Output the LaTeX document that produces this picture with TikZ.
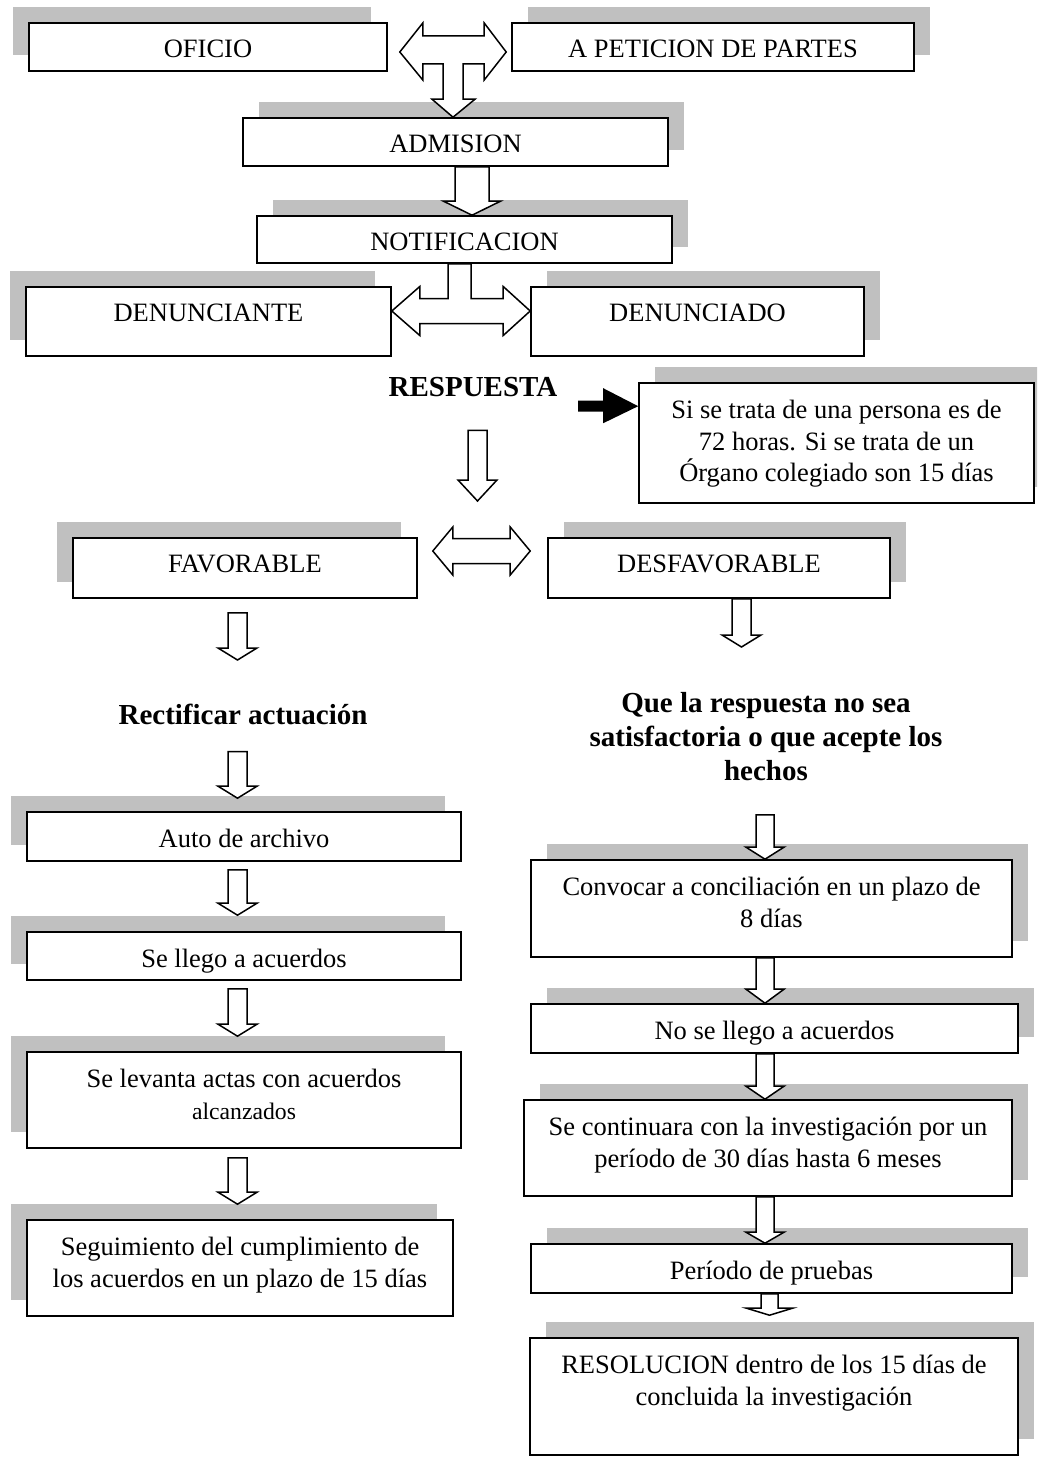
\documentclass[tikz,border=0pt]{standalone}
\usepackage{fontspec}
\setmainfont{Liberation Serif}
\usetikzlibrary{calc}
\definecolor{shadegray}{RGB}{192,192,192}
\newcommand{\bodyfont}{\fontsize{26.5}{31.5}\selectfont}
\newcommand{\headfont}{\fontsize{29}{34}\selectfont\bfseries}
\tikzset{
  boxst/.style={draw, line width=1.6pt, fill=white, inner sep=0pt},
  boxtxt/.style={font=\bodyfont, align=center, inner sep=0pt, anchor=north},
  headtxt/.style={font=\headfont, align=center, inner sep=0pt},
  blk/.style={draw, line width=1.5pt, fill=white, line join=miter},
}
% box with offset shadow: name, x1, y1, x2, y2, shadow dx, text
\newcommand{\flowbox}[7]{%
  \fill[shadegray] ({#2+(#6)},{#3-16}) rectangle ({#4+(#6)},{#5-16});
  \node[boxst, minimum width={#4pt-#2pt}, minimum height={#5pt-#3pt}] (#1) at ({(#2+#4)/2},{(#3+#5)/2}) {};
  \node[boxtxt] (#1-t) at ([yshift=-18pt]#1.north) {#7};}
% down block arrow: x centre, from, to, shaft half width, head half width, head length
\newcommand{\dnarrow}[6]{\draw[blk] let \p1=(#2), \p2=(#3) in
  ({#1pt-#4pt},\y1) -- ({#1pt+#4pt},\y1) -- ({#1pt+#4pt},{\y2+#6pt}) -- ({#1pt+#5pt},{\y2+#6pt}) -- ({#1pt},\y2) -- ({#1pt-#5pt},{\y2+#6pt}) -- ({#1pt-#4pt},{\y2+#6pt}) -- cycle;}
% horizontal double block arrow: left tip, right tip, shaft half, head half, head length
\newcommand{\dblarrow}[5]{\draw[blk] let \p1=(#1), \p2=(#2) in
  (\x1,\y1) -- ({\x1+#5pt},{\y1+#4pt}) -- ({\x1+#5pt},{\y1+#3pt}) -- ({\x2-#5pt},{\y1+#3pt}) -- ({\x2-#5pt},{\y1+#4pt}) -- (\x2,\y1) -- ({\x2-#5pt},{\y1-#4pt}) -- ({\x2-#5pt},{\y1-#3pt}) -- ({\x1+#5pt},{\y1-#3pt}) -- ({\x1+#5pt},{\y1-#4pt}) -- cycle;}

\begin{document}
\begin{tikzpicture}[x=1pt,y=-1pt]
\useasboundingbox (0,0) rectangle (1037,1458);
\clip (0,0) rectangle (1037,1458);
\fill[white] (0,0) rectangle (1037,1458);

\flowbox{oficio}{29}{23}{387}{71}{-16}{OFICIO}
\flowbox{peticion}{512}{23}{914}{71}{16}{A PETICION DE PARTES}
\flowbox{admision}{243}{118}{668}{166}{16}{ADMISION}
\flowbox{notif}{257}{216}{672}{263}{16}{NOTIFICACION}
\flowbox{denunciante}{26}{287}{391}{356}{-16}{DENUNCIANTE}
\flowbox{denunciado}{531}{287}{864}{356}{16}{DENUNCIADO}
\flowbox{note}{639}{383}{1034}{503}{16}{Si se trata de una persona es de\\72 horas. Si se trata de un\\Órgano colegiado son 15 días}
\flowbox{favorable}{73}{538}{417}{598}{-16}{FAVORABLE}
\flowbox{desfav}{548}{538}{890}{598}{16}{DESFAVORABLE}
\flowbox{auto}{27}{812}{461}{861}{-16}{Auto de archivo}
\flowbox{llego}{27}{932}{461}{980}{-16}{Se llego a acuerdos}
\flowbox{levanta}{27}{1052}{461}{1148}{-16}{Se levanta actas con acuerdos\\{\fontsize{23.7}{27}\selectfont alcanzados}}
\flowbox{seguim}{27}{1220}{453}{1316}{-16}{Seguimiento del cumplimiento de\\los acuerdos en un plazo de 15 días}
\flowbox{convocar}{531}{860}{1012}{957}{16}{Convocar a conciliación en un plazo de\\8 días}
\flowbox{nollego}{531}{1004}{1018}{1053}{16}{No se llego a acuerdos}
\flowbox{continuara}{524}{1100}{1012}{1196}{16}{Se continuara con la investigación por un\\período de 30 días hasta 6 meses}
\flowbox{pruebas}{531}{1244}{1012}{1293}{16}{Período de pruebas}
\flowbox{resolucion}{530}{1338}{1018}{1455}{16}{RESOLUCION dentro de los 15 días de\\concluida la investigación}

% headings
\node[headtxt, anchor=base] (resp) at (473,396) {RESPUESTA};
\node[headtxt, anchor=base] (rect) at (243,724) {Rectificar actuación};
\node[headtxt, anchor=north] (queresp) at (766,692) {Que la respuesta no sea\\satisfactoria o que acepte los\\hechos};

% free arrow ends
\coordinate (blkstart) at (578,407);
\coordinate (respend) at (477.5,501);
\coordinate (favend) at (237.5,660);
\coordinate (desfavend) at (741.5,647);

% T-shaped arrow: OFICIO <-> A PETICION, down to ADMISION
\draw[blk] let \p1=([xshift=12pt,yshift=-5pt]oficio.east), \p2=([xshift=-5pt,yshift=-5pt]peticion.west), \p3=([xshift=-2.5pt]admision.north) in
  (\x1,\y1) -- ({\x1+23pt},{\y1+29pt}) -- ({\x1+23pt},{\y1+16pt}) -- ({\x2-22pt},{\y1+16pt}) -- ({\x2-22pt},{\y1+29pt}) -- (\x2,\y1)
  -- ({\x2-22pt},{\y1-28pt}) -- ({\x2-22pt},{\y1-12pt}) -- ({\x3+10pt},{\y1-12pt}) -- ({\x3+10pt},{\y3+18pt}) -- ({\x3+22pt},{\y3+18pt})
  -- (\x3,\y3) -- ({\x3-21pt},{\y3+18pt}) -- ({\x3-10pt},{\y3+18pt}) -- ({\x3-10pt},{\y1-12pt}) -- ({\x1+23pt},{\y1-12pt}) -- ({\x1+23pt},{\y1-28pt}) -- cycle;

% ADMISION -> NOTIFICACION
\dnarrow{472}{admision.south}{notif.north}{17}{28.5}{14}

% NOTIFICACION -> DENUNCIANTE <-> DENUNCIADO
\draw[blk] let \p1=([yshift=10.5pt]denunciante.east), \p2=([yshift=10.5pt]denunciado.west), \p3=([xshift=-16.5pt]notif.south) in
  (\x1,\y1) -- ({\x1+28pt},{\y1+24.5pt}) -- ({\x1+28pt},{\y1+12.5pt}) -- (\x3,{\y1+12.5pt}) -- (\x3,\y3) -- ({\x3+23pt},\y3)
  -- ({\x3+23pt},{\y1+12.5pt}) -- ({\x2-27pt},{\y1+12.5pt}) -- ({\x2-27pt},{\y1+24.5pt}) -- (\x2,\y1) -- ({\x2-27pt},{\y1-24.5pt})
  -- ({\x2-27pt},{\y1-12.5pt}) -- ({\x1+28pt},{\y1-12.5pt}) -- ({\x1+28pt},{\y1-24.5pt}) -- cycle;

% RESPUESTA -> note (black arrow)
\fill let \p1=(blkstart), \p2=([yshift=-24pt]note.north west) in
  (\x1,{\y2+5.5pt}) -- ({\x2-35pt},{\y2+5.5pt}) -- ({\x2-35pt},{\y2+18pt}) -- (\x2,\y2) -- ({\x2-35pt},{\y2-17pt}) -- ({\x2-35pt},{\y2-5.5pt}) -- (\x1,{\y2-5.5pt}) -- cycle;

% RESPUESTA down
\dnarrow{477.5}{[yshift=-34pt]resp.south}{respend}{9.5}{19.5}{21}

% FAVORABLE <-> DESFAVORABLE
\dblarrow{[xshift=15pt,yshift=17pt]favorable.east}{[xshift=-17pt,yshift=17pt]desfav.west}{12.5}{24}{20}

% left column
\dnarrow{237.5}{[yshift=-14pt]favorable.south}{favend}{9.5}{19.5}{12}
\dnarrow{237.5}{[yshift=-27pt]rect.south}{[yshift=13pt]auto.north}{9.5}{19.5}{12}
\dnarrow{237.5}{[yshift=-8pt]auto.south}{[yshift=16pt]llego.north}{9.5}{19.5}{12}
\dnarrow{237.5}{[yshift=-8pt]llego.south}{[yshift=15pt]levanta.north}{9.5}{19.5}{12}
\dnarrow{237.5}{[yshift=-9pt]levanta.south}{[yshift=15pt]seguim.north}{9.5}{19.5}{12}

% right column
\dnarrow{741.5}{desfav.south}{desfavend}{9.5}{19.5}{12}
\dnarrow{765}{[yshift=-34pt]queresp.south}{convocar.north}{9}{19}{12}
\dnarrow{765}{convocar.south}{nollego.north}{9}{19}{14}
\dnarrow{765}{nollego.south}{continuara.north}{9}{19}{13}
\dnarrow{765}{continuara.south}{pruebas.north}{9}{19}{11}
\dnarrow{769.5}{pruebas.south}{[yshift=22pt]resolucion.north}{8.5}{23}{7}
\end{tikzpicture}
\end{document}
